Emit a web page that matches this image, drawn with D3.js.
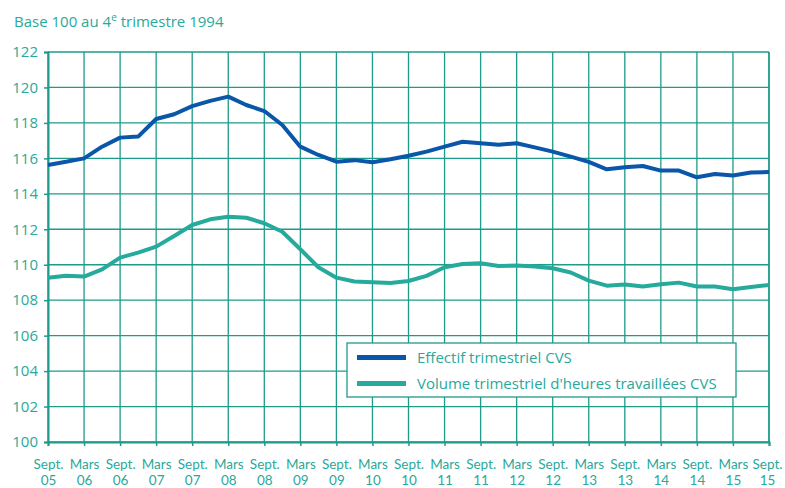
<!DOCTYPE html>
<html lang="fr">
<head>
<meta charset="utf-8">
<script src="https://cdn.jsdelivr.net/npm/d3@7"></script>
<style>
  html, body { margin: 0; padding: 0; background: #fff; }
  svg { display: block; font-family: "Open Sans", "Noto Sans", sans-serif; }
</style>
</head>
<body>
<svg id="chart" width="785" height="488"></svg>
<script>
// Quarters, 3rd quarter 2005 to 3rd quarter 2015
const quarters = [
  "2005T3","2005T4","2006T1","2006T2","2006T3","2006T4","2007T1","2007T2","2007T3","2007T4",
  "2008T1","2008T2","2008T3","2008T4","2009T1","2009T2","2009T3","2009T4","2010T1","2010T2",
  "2010T3","2010T4","2011T1","2011T2","2011T3","2011T4","2012T1","2012T2","2012T3","2012T4",
  "2013T1","2013T2","2013T3","2013T4","2014T1","2014T2","2014T3","2014T4","2015T1","2015T2",
  "2015T3"
];

// Effectif trimestriel CVS (base 100 au 4e trimestre 1994)
const effectif = [
  115.63, 115.81, 116.0, 116.66, 117.17, 117.23, 118.22, 118.49, 118.95, 119.24,
  119.48, 119.01, 118.67, 117.88, 116.66, 116.19, 115.81, 115.9, 115.78, 115.95,
  116.15, 116.38, 116.66, 116.94, 116.85, 116.77, 116.85, 116.62, 116.38, 116.1,
  115.8, 115.38, 115.5, 115.57, 115.31, 115.31, 114.93, 115.12, 115.03, 115.2,
  115.23
];

// Volume trimestriel d'heures travaillées CVS
const volume = [
  109.27, 109.38, 109.33, 109.74, 110.4, 110.68, 111.02, 111.62, 112.24, 112.56,
  112.71, 112.65, 112.34, 111.86, 110.87, 109.86, 109.27, 109.05, 109.01, 108.97,
  109.08, 109.37, 109.86, 110.04, 110.08, 109.93, 109.95, 109.9, 109.8, 109.56,
  109.1, 108.82, 108.88, 108.77, 108.9, 108.99, 108.77, 108.77, 108.62, 108.74,
  108.86
];

// Axis labels, one every two quarters
const tickQuarters = quarters.filter((q, i) => i % 2 === 0);
const tickMonths = ["Sept.","Mars","Sept.","Mars","Sept.","Mars","Sept.","Mars","Sept.","Mars","Sept.",
                    "Mars","Sept.","Mars","Sept.","Mars","Sept.","Mars","Sept.","Mars","Sept."];
const tickYears = ["05","06","06","07","07","08","08","09","09","10","10",
                   "11","11","12","12","13","13","14","14","15","15"];
const yTicks = [100, 102, 104, 106, 108, 110, 112, 114, 116, 118, 120, 122];

const seriesNames = ["Effectif trimestriel CVS", "Volume trimestriel d'heures travaillées CVS"];

const teal = "#1e9b8a";
const textTeal = "#2aa89a";
const blue = "#0a56a8";
const green = "#26aa9b";

const W = 785, H = 488;
const m = { top: 52, right: 16, bottom: 46, left: 48 };
const svg = d3.select("#chart");

const x = d3.scalePoint().domain(quarters).range([m.left, W - m.right]);
const y = d3.scaleLinear().domain([100, 122]).range([H - m.bottom, m.top]);

// Subtitle
const title = svg.append("text")
  .attr("x", 14).attr("y", 27)
  .attr("fill", textTeal)
  .attr("font-size", 15);
title.append("tspan").text("Base 100 au 4");
title.append("tspan").attr("font-size", 10).attr("dy", -6).text("e");
title.append("tspan").attr("dy", 6).text(" trimestre 1994");

// Grid
const grid = svg.append("g");
grid.selectAll("line.h").data(yTicks).join("line")
  .attr("x1", m.left).attr("x2", W - m.right)
  .attr("y1", d => y(d)).attr("y2", d => y(d))
  .attr("stroke", teal).attr("stroke-width", 1.3);
grid.selectAll("line.v").data(tickQuarters).join("line")
  .attr("x1", d => x(d)).attr("x2", d => x(d))
  .attr("y1", m.top).attr("y2", H - m.bottom)
  .attr("stroke", teal).attr("stroke-width", 1.3);

// Y axis
const yAxis = svg.append("g")
  .attr("transform", `translate(${m.left},0)`)
  .call(d3.axisLeft(y).tickValues(yTicks).tickSize(4).tickPadding(6).tickFormat(d3.format("d")));
yAxis.select(".domain").attr("stroke", teal).attr("stroke-width", 2);
yAxis.selectAll(".tick line").attr("stroke", teal).attr("stroke-width", 1.5);
yAxis.selectAll(".tick text").attr("fill", textTeal).attr("font-size", 15)
  .attr("font-family", "'Open Sans', 'Noto Sans', sans-serif");

// X axis: month on one line, year below
const xAxis = svg.append("g")
  .attr("transform", `translate(0,${H - m.bottom})`)
  .call(d3.axisBottom(x).tickValues(tickQuarters).tickSize(4).tickFormat(""));
xAxis.select(".domain").attr("stroke", teal).attr("stroke-width", 2);
xAxis.selectAll(".tick line").attr("stroke", teal).attr("stroke-width", 1.5);
const lastTick = tickQuarters.length - 1;
xAxis.selectAll(".tick").each(function(d, i) {
  const dx = i === lastTick ? -2 : 0;
  const g = d3.select(this);
  const labelAttrs = sel => sel
    .attr("fill", textTeal).attr("font-size", 13.5).attr("text-anchor", "middle")
    .attr("font-family", "Lato, 'Open Sans', sans-serif").attr("x", dx);
  g.append("text").call(labelAttrs).attr("y", 27).text(tickMonths[i]);
  g.append("text").call(labelAttrs).attr("y", 43).text(tickYears[i]);
});

// Right frame edge
svg.append("line")
  .attr("x1", W - m.right).attr("x2", W - m.right)
  .attr("y1", m.top).attr("y2", H - m.bottom)
  .attr("stroke", teal).attr("stroke-width", 1.5);

// Series lines
const line = d3.line().x((d, i) => x(quarters[i])).y(d => y(d));
svg.append("path").datum(volume)
  .attr("d", line).attr("fill", "none")
  .attr("stroke", green).attr("stroke-width", 4).attr("stroke-linejoin", "round");
svg.append("path").datum(effectif)
  .attr("d", line).attr("fill", "none")
  .attr("stroke", blue).attr("stroke-width", 4).attr("stroke-linejoin", "round");

// Legend
const lg = svg.append("g").attr("transform", "translate(347,343)");
lg.append("rect").attr("width", 389).attr("height", 54)
  .attr("fill", "#fff").attr("stroke", teal).attr("stroke-width", 1.3);
[blue, green].forEach((c, i) => {
  lg.append("line")
    .attr("x1", 10).attr("x2", 59)
    .attr("y1", 14.5 + i * 26).attr("y2", 14.5 + i * 26)
    .attr("stroke", c).attr("stroke-width", 5);
  lg.append("text")
    .attr("x", 70).attr("y", 20 + i * 26)
    .attr("fill", textTeal).attr("font-size", 15)
    .text(seriesNames[i]);
});
</script>
</body>
</html>
